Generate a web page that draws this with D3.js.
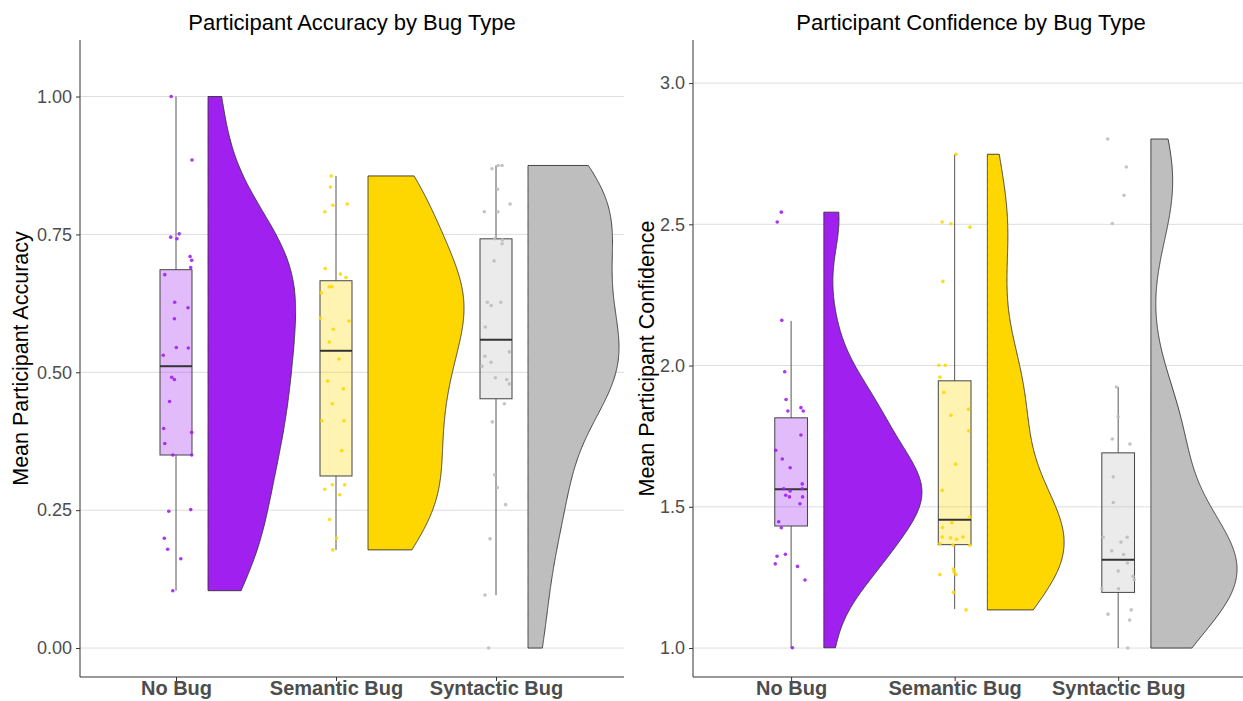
<!DOCTYPE html>
<html>
<head>
<meta charset="utf-8">
<script src="https://cdn.jsdelivr.net/npm/d3@7"></script>
<style>
  body { margin: 0; background: #fff; }
  text { font-family: "Liberation Sans", Arial, sans-serif; }
</style>
</head>
<body>
<script>
const categories = ["No Bug", "Semantic Bug", "Syntactic Bug"];

// accuracy: points per bug type and their horizontal jitter (category units)
const accNoBug = [1.0, 0.885, 0.751, 0.745, 0.742, 0.710, 0.703, 0.690, 0.677, 0.627, 0.617, 0.597, 0.545, 0.544, 0.531,
  0.491, 0.487, 0.447, 0.398, 0.391, 0.371, 0.350, 0.350, 0.251, 0.248, 0.199, 0.179, 0.162, 0.104];
const accNoBugJitter = [-0.03, 0.10, 0.02, -0.033, 0.006, 0.088, 0.098, 0.092, -0.07, -0.008, 0.075, -0.01, 0.002, 0.077, -0.08,
  -0.027, -0.01, -0.04, -0.077, 0.098, -0.07, -0.02, 0.098, 0.092, -0.045, -0.073, -0.052, 0.03, -0.02];
const accSemantic = [0.856, 0.836, 0.805, 0.803, 0.791, 0.688, 0.678, 0.672, 0.655, 0.655, 0.644, 0.598, 0.593, 0.578, 0.555,
  0.524, 0.484, 0.470, 0.443, 0.412, 0.412, 0.358, 0.296, 0.296, 0.288, 0.278, 0.233, 0.199, 0.178];
const accSemanticJitter = [-0.03, -0.035, 0.07, -0.02, -0.07, -0.067, 0.027, 0.062, -0.042, -0.025, -0.092, -0.098, 0.081, -0.017, -0.042,
  0.019, -0.052, 0.046, -0.023, -0.088, 0.05, 0.036, -0.023, 0.054, -0.07, 0.023, -0.04, 0.002, -0.02];
const accSyntactic = [0.875, 0.875, 0.869, 0.832, 0.805, 0.791, 0.791, 0.742, 0.740, 0.733, 0.702, 0.627, 0.627, 0.621, 0.582,
  0.537, 0.529, 0.518, 0.511, 0.490, 0.487, 0.479, 0.443, 0.410, 0.314, 0.291, 0.260, 0.198, 0.096, 0.0];
const accSyntacticJitter = [0.014, 0.038, -0.025, 0.01, 0.088, -0.073, 0.012, -0.008, 0.04, 0.038, -0.012, -0.054, 0.03, -0.03, -0.067,
  0.083, -0.07, -0.031, -0.088, -0.004, 0.067, 0.083, 0.052, -0.023, -0.008, 0.008, 0.06, -0.037, -0.069, -0.046];

// accuracy boxplot stats, one entry per category
const accQ1 = [0.350, 0.312, 0.452];
const accMedian = [0.511, 0.539, 0.559];
const accQ3 = [0.686, 0.666, 0.742];
const accWhiskerLo = [0.104, 0.178, 0.096];
const accWhiskerHi = [1.0, 0.856, 0.875];

// confidence: points per bug type and jitter
const confNoBug = [2.543, 2.508, 2.160, 1.978, 1.880, 1.851, 1.839, 1.839, 1.754, 1.700, 1.669, 1.638, 1.581, 1.564, 1.564,
  1.556, 1.541, 1.535, 1.535, 1.511, 1.447, 1.426, 1.332, 1.325, 1.298, 1.289, 1.241, 1.001];
const confNoBugJitter = [-0.06, -0.085, -0.057, -0.039, -0.031, 0.06, -0.02, 0.074, 0.06, -0.094, -0.054, -0.006, 0.068, -0.045, 0.068,
  -0.006, -0.033, -0.01, 0.07, 0.054, -0.076, -0.06, -0.035, -0.086, -0.097, 0.039, 0.085, 0.008];
const confSemantic = [2.748, 2.508, 2.502, 2.490, 2.298, 2.001, 2.001, 1.959, 1.905, 1.845, 1.824, 1.769, 1.651, 1.558, 1.464,
  1.444, 1.427, 1.393, 1.390, 1.385, 1.393, 1.369, 1.365, 1.364, 1.280, 1.270, 1.260, 1.260, 1.197, 1.135];
const confSemanticJitter = [0.008, -0.076, -0.023, 0.094, -0.072, -0.097, -0.057, -0.09, -0.066, 0.085, -0.023, 0.086, 0.006, -0.076, 0.093,
  -0.017, -0.074, -0.076, -0.025, 0.012, 0.051, -0.09, -0.01, 0.093, -0.008, -0.004, 0.008, -0.09, -0.008, 0.07];
const confSyntactic = [2.802, 2.703, 2.603, 2.503, 1.924, 1.819, 1.740, 1.722, 1.606, 1.515, 1.392, 1.392, 1.375, 1.344, 1.331,
  1.301, 1.273, 1.254, 1.242, 1.210, 1.210, 1.135, 1.120, 1.099, 1.0];
const confSyntacticJitter = [-0.064, 0.05, 0.036, -0.036, -0.011, 0, -0.036, 0.072, -0.03, -0.03, -0.092, 0.055, 0.017, -0.039, 0.033,
  0.057, 0, 0.091, 0.098, -0.1, 0.002, 0.08, -0.062, 0.07, 0.059];

const confQ1 = [1.432, 1.366, 1.197];
const confMedian = [1.562, 1.454, 1.313];
const confQ3 = [1.815, 1.946, 1.691];
const confWhiskerLo = [1.0, 1.138, 1.0];
const confWhiskerHi = [2.158, 2.748, 1.924];

const accTicks = [0, 0.25, 0.5, 0.75, 1.0];
const confTicks = [1.0, 1.5, 2.0, 2.5, 3.0];

const fills = ["#A020F0", "#FFD700", "#BEBEBE"];

const width = 1243;
const height = 701;

const svg = d3.select("body")
  .append("svg")
  .attr("width", width)
  .attr("height", height);

const panels = [
  {
    title: "Participant Accuracy by Bug Type", ylab: "Mean Participant Accuracy", ylabOffset: 52,
    left: 80, right: 624, yDomain: [-0.0525, 1.1025], ticks: accTicks, fmt: d3.format(".2f"),
    values: [accNoBug, accSemantic, accSyntactic], jitter: [accNoBugJitter, accSemanticJitter, accSyntacticJitter],
    q1: accQ1, med: accMedian, q3: accQ3, lo: accWhiskerLo, hi: accWhiskerHi
  },
  {
    title: "Participant Confidence by Bug Type", ylab: "Mean Participant Confidence", ylabOffset: 39,
    left: 693, right: 1249, yDomain: [0.8975, 3.1525], ticks: confTicks, fmt: d3.format(".1f"),
    values: [confNoBug, confSemantic, confSyntactic], jitter: [confNoBugJitter, confSemanticJitter, confSyntacticJitter],
    q1: confQ1, med: confMedian, q3: confQ3, lo: confWhiskerLo, hi: confWhiskerHi
  }
];

const plotTop = 40;
const plotBottom = 677;

// gaussian kde with R's nrd0 bandwidth, trimmed to the data range
function density(values) {
  const s = values.slice().sort(d3.ascending);
  const n = s.length;
  const iqr = d3.quantile(s, 0.75) - d3.quantile(s, 0.25);
  const bw = 0.9 * Math.min(d3.deviation(s), iqr / 1.34) * Math.pow(n, -0.2);
  const lo = s[0], hi = s[n - 1];
  return d3.range(512).map((i) => {
    const y = lo + (hi - lo) * i / 511;
    const d = d3.mean(s, (v) => Math.exp(-0.5 * ((y - v) / bw) ** 2)) / (bw * Math.sqrt(2 * Math.PI));
    return {y: y, d: d};
  });
}

panels.forEach((p) => {
  const x = d3.scaleLinear().domain([0.4, 3.8]).range([p.left, p.right]);
  const y = d3.scaleLinear().domain(p.yDomain).range([plotBottom, plotTop]);
  const g = svg.append("g");

  // grid
  g.selectAll(".grid")
    .data(p.ticks)
    .enter().append("line")
    .attr("x1", p.left).attr("x2", p.right)
    .attr("y1", (d) => y(d)).attr("y2", (d) => y(d))
    .attr("stroke", "#dedede")
    .attr("stroke-width", 1);

  // violins, area scaled by the panel's max density
  const dens = p.values.map(density);
  const maxD = d3.max(dens, (ds) => d3.max(ds, (e) => e.d));
  dens.forEach((ds, i) => {
    const c = i + 1;
    const area = d3.area()
      .x0(x(c + 0.2))
      .x1((e) => x(c + 0.2) + (x(0.6) - x(0)) * e.d / maxD)
      .y((e) => y(e.y));
    g.append("path")
      .datum(ds)
      .attr("d", area)
      .attr("fill", fills[i])
      .attr("stroke", "#333")
      .attr("stroke-width", 0.9);
  });

  // boxplots
  categories.forEach((cat, i) => {
    const c = i + 1;
    g.append("line")
      .attr("x1", x(c)).attr("x2", x(c))
      .attr("y1", y(p.hi[i])).attr("y2", y(p.q3[i]))
      .attr("stroke", "#444").attr("stroke-width", 0.9);
    g.append("line")
      .attr("x1", x(c)).attr("x2", x(c))
      .attr("y1", y(p.q1[i])).attr("y2", y(p.lo[i]))
      .attr("stroke", "#444").attr("stroke-width", 0.9);
    g.append("rect")
      .attr("x", x(c - 0.1))
      .attr("width", x(c + 0.1) - x(c - 0.1))
      .attr("y", y(p.q3[i]))
      .attr("height", y(p.q1[i]) - y(p.q3[i]))
      .attr("fill", fills[i])
      .attr("fill-opacity", 0.3)
      .attr("stroke", "#444")
      .attr("stroke-width", 1);
    g.append("line")
      .attr("x1", x(c - 0.1)).attr("x2", x(c + 0.1))
      .attr("y1", y(p.med[i])).attr("y2", y(p.med[i]))
      .attr("stroke", "#333").attr("stroke-width", 2);
  });

  // jittered points
  p.values.forEach((vals, i) => {
    g.selectAll(".pt" + i)
      .data(vals)
      .enter().append("circle")
      .attr("cx", (d, j) => x(i + 1 + p.jitter[i][j]))
      .attr("cy", (d) => y(d))
      .attr("r", 1.8)
      .attr("fill", fills[i])
      .attr("fill-opacity", 0.9);
  });

  // axes
  const yAxis = d3.axisLeft(y).tickValues(p.ticks).tickFormat(p.fmt).tickSize(4).tickPadding(4);
  const ya = g.append("g")
    .attr("transform", "translate(" + p.left + ",0)")
    .call(yAxis);
  ya.select(".domain").attr("d", "M0," + plotTop + "V" + plotBottom).attr("stroke", "#333");
  ya.selectAll(".tick line").attr("stroke", "#333");
  ya.selectAll(".tick text").attr("fill", "#4d4d4d").style("font-size", "18px")
    .style("font-family", "Liberation Sans, Arial, sans-serif");

  const xAxis = d3.axisBottom(x).tickValues([1, 2, 3]).tickFormat((d) => categories[d - 1]).tickSize(4).tickPadding(0);
  const xa = g.append("g")
    .attr("transform", "translate(0," + plotBottom + ")")
    .call(xAxis);
  xa.select(".domain").attr("d", "M" + p.left + ",0H" + p.right).attr("stroke", "#333");
  xa.selectAll(".tick line").attr("stroke", "#333");
  xa.selectAll(".tick text").attr("fill", "#4d4d4d").style("font-size", "20px").style("font-weight", "bold")
    .style("font-family", "Liberation Sans, Arial, sans-serif");

  svg.append("text")
    .attr("x", (p.left + p.right) / 2)
    .attr("y", 30)
    .style("text-anchor", "middle")
    .style("font-size", "22px")
    .attr("fill", "#000")
    .text(p.title);

  svg.append("text")
    .attr("transform", "translate(" + (p.left - p.ylabOffset) + "," + ((plotTop + plotBottom) / 2) + ") rotate(-90)")
    .style("text-anchor", "middle")
    .style("font-size", "21.5px")
    .attr("fill", "#000")
    .text(p.ylab);
});
</script>
</body>
</html>
